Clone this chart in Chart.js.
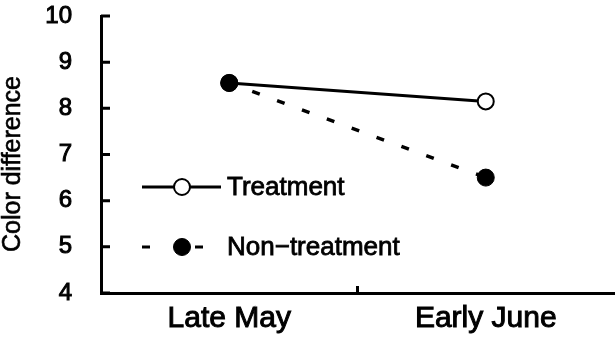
<!DOCTYPE html>
<html>
<head>
<meta charset="utf-8">
<script src="https://cdn.jsdelivr.net/npm/chart.js@4.4.1/dist/chart.umd.min.js"></script>
<style>
  html, body { margin: 0; padding: 0; background: #fff; }
  #wrap { width: 616px; height: 337px; }
</style>
</head>
<body>
<div id="wrap"><canvas id="colorChart"></canvas></div>
<script>
const periods = ["Late May", "Early June"];
const treatmentValues = [8.55, 8.15];
const nonTreatmentValues = [8.55, 6.5];
const yTicks = [4, 5, 6, 7, 8, 9, 10];
const yTitle = "Color difference";

const FONT = "'Liberation Sans', Arial, sans-serif";

// fill + thin outline gives the text a slightly heavier stroke
function heavyText(ctx, text, x, y, width) {
  ctx.fillText(text, x, y);
  ctx.lineWidth = width;
  ctx.strokeStyle = "#000";
  ctx.strokeText(text, x, y);
}

// short tick marks pointing into the plot, plus the tick between the two periods
const innerTicks = {
  id: "innerTicks",
  afterDraw(chart) {
    const { ctx, chartArea } = chart;
    const x = chart.scales.x, y = chart.scales.y;
    ctx.save();
    ctx.strokeStyle = "#000";
    ctx.lineWidth = 3;
    ctx.beginPath();
    yTicks.forEach(v => {
      const py = y.getPixelForValue(v);
      ctx.moveTo(chartArea.left, py);
      ctx.lineTo(chartArea.left + 9, py);
    });
    const mid = (x.getPixelForValue(0) + x.getPixelForValue(1)) / 2;
    ctx.moveTo(mid, chartArea.bottom);
    ctx.lineTo(mid, chartArea.bottom - 7);
    ctx.stroke();
    ctx.restore();
  }
};

// rotated y axis title
const sideTitle = {
  id: "sideTitle",
  afterDraw(chart) {
    const ctx = chart.ctx;
    ctx.save();
    ctx.translate(13, 164);
    ctx.rotate(-Math.PI / 2);
    ctx.font = "25px " + FONT;
    ctx.fillStyle = "#000";
    ctx.textAlign = "center";
    ctx.textBaseline = "middle";
    heavyText(ctx, yTitle, 0, 0, 0.6);
    ctx.restore();
  }
};

// legend inside the plot: line sample with marker, then the label
const lineLegend = {
  id: "lineLegend",
  afterDatasetsDraw(chart) {
    const ctx = chart.ctx;
    const rows = [
      { ds: chart.data.datasets[0], y: 187, dash: [] },
      { ds: chart.data.datasets[1], y: 247, dash: [8, 45] }
    ];
    ctx.save();
    rows.forEach(r => {
      ctx.strokeStyle = "#000";
      ctx.lineWidth = 3;
      ctx.setLineDash(r.dash);
      ctx.beginPath();
      ctx.moveTo(142, r.y);
      ctx.lineTo(r.dash.length ? 203 : 221, r.y);
      ctx.stroke();
      ctx.setLineDash([]);
      ctx.beginPath();
      ctx.arc(182, r.y, r.ds.pointRadius, 0, Math.PI * 2);
      ctx.fillStyle = r.ds.pointBackgroundColor;
      ctx.fill();
      ctx.lineWidth = r.ds.pointBorderWidth;
      ctx.stroke();
      ctx.fillStyle = "#000";
      ctx.font = "26px " + FONT;
      ctx.textAlign = "left";
      ctx.textBaseline = "middle";
      heavyText(ctx, r.ds.label, 227, r.y + 1, 0.8);
    });
    ctx.restore();
  }
};

new Chart(document.getElementById("colorChart"), {
  type: "line",
  data: {
    labels: periods,
    datasets: [
      {
        label: "Treatment",
        data: treatmentValues,
        borderColor: "#000",
        borderWidth: 3,
        pointRadius: 8,
        pointBorderWidth: 2,
        pointBackgroundColor: "#fff",
        pointBorderColor: "#000",
        order: 1
      },
      {
        label: "Non\u2212treatment",
        data: nonTreatmentValues,
        borderColor: "#000",
        borderWidth: 3.5,
        borderDash: [8, 18.5],
        borderDashOffset: 2,
        pointRadius: 8.5,
        pointBorderWidth: 1,
        pointBackgroundColor: "#000",
        pointBorderColor: "#000",
        order: 0
      }
    ]
  },
  options: {
    responsive: true,
    maintainAspectRatio: false,
    animation: false,
    layout: { autoPadding: false, padding: { top: 16, right: 2, left: 0, bottom: 0 } },
    plugins: {
      legend: { display: false },
      tooltip: { enabled: false }
    },
    scales: {
      x: {
        offset: true,
        afterFit(s) {
          s.height = 44;
          s.paddingLeft = 0;
          s.paddingRight = 0;
        },
        border: { color: "#000", width: 3 },
        grid: { display: false, drawTicks: false },
        ticks: {
          color: "#000",
          font: { family: FONT, size: 30 },
          textStrokeColor: "#000",
          textStrokeWidth: 1,
          padding: 8,
          maxRotation: 0
        }
      },
      y: {
        min: 4,
        max: 10,
        afterFit(s) {
          s.width = 101;
          s.paddingTop = 0;
          s.paddingBottom = 0;
        },
        afterBuildTicks(s) { s.ticks = yTicks.map(v => ({ value: v })); },
        border: { color: "#000", width: 3 },
        grid: { display: false, drawTicks: false },
        ticks: {
          color: "#000",
          font: { family: FONT, size: 24 },
          textStrokeColor: "#000",
          textStrokeWidth: 1,
          padding: 29
        }
      }
    }
  },
  plugins: [innerTicks, sideTitle, lineLegend]
});
</script>
</body>
</html>
